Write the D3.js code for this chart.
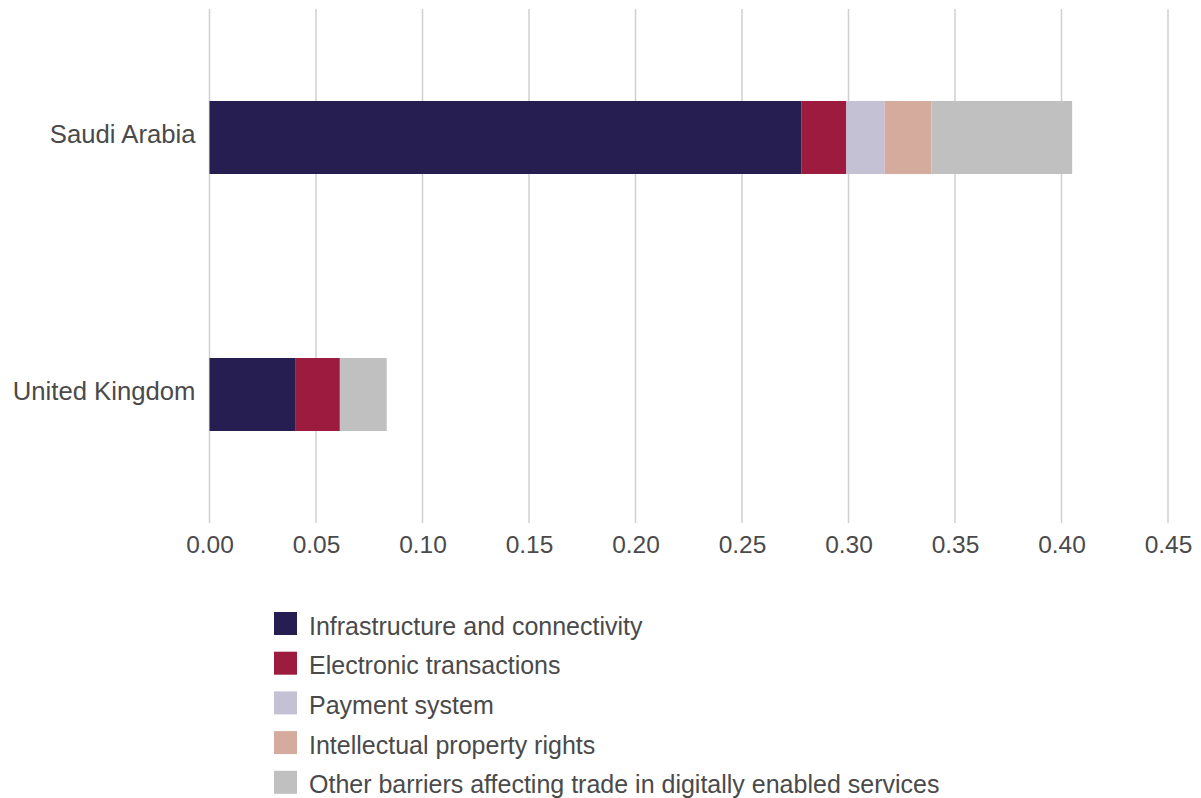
<!DOCTYPE html>
<html>
<head>
<meta charset="utf-8">
<script src="https://cdn.jsdelivr.net/npm/d3@7/dist/d3.min.js"></script>
<style>
  html, body { margin: 0; padding: 0; background: #fff; }
  svg text { font-family: "Liberation Sans", Arial, Helvetica, sans-serif; fill: #4a4a4a; }
</style>
</head>
<body>
<svg id="chart" width="1201" height="798"></svg>
<script>
// Barrier categories (stack order) and their colours
const seriesNames = [
  "Infrastructure and connectivity",
  "Electronic transactions",
  "Payment system",
  "Intellectual property rights",
  "Other barriers affecting trade in digitally enabled services"
];
const seriesColors = ["#261e50", "#9c1b3e", "#c5c1d5", "#d5ab9e", "#c0c0c0"];

const countries = ["Saudi Arabia", "United Kingdom"];

// Index contributions per country, one array per barrier category
const infrastructure = [0.278, 0.0405];
const electronic     = [0.021, 0.0207];
const payment        = [0.018, 0.0];
const ipRights       = [0.022, 0.0];
const other          = [0.066, 0.022];

const xTicks = [0, 0.05, 0.10, 0.15, 0.20, 0.25, 0.30, 0.35, 0.40, 0.45];

const rows = countries.map((c, i) => ({
  country: c,
  [seriesNames[0]]: infrastructure[i],
  [seriesNames[1]]: electronic[i],
  [seriesNames[2]]: payment[i],
  [seriesNames[3]]: ipRights[i],
  [seriesNames[4]]: other[i]
}));

const svg = d3.select("#chart");
const margin = { left: 209.5, right: 33, top: 9, bottom: 275 };
const W = 1201, H = 798;

const x = d3.scaleLinear().domain([0, 0.45]).range([margin.left, W - margin.right]);
const y = d3.scaleBand().domain(countries)
  .range([margin.top, H - margin.bottom])
  .paddingInner(0.716).paddingOuter(0.358);

// Vertical gridlines
svg.append("g").selectAll("line").data(xTicks).join("line")
  .attr("x1", d => x(d)).attr("x2", d => x(d))
  .attr("y1", margin.top).attr("y2", H - margin.bottom)
  .attr("stroke", "#d0d0d0").attr("stroke-width", 1.5);

// Stacked bars
const stack = d3.stack().keys(seriesNames);
const layers = stack(rows);
const color = d3.scaleOrdinal().domain(seriesNames).range(seriesColors);

svg.append("g").selectAll("g").data(layers).join("g")
  .attr("fill", d => color(d.key))
  .selectAll("rect").data(d => d).join("rect")
  .attr("x", d => x(d[0]))
  .attr("width", d => Math.max(0, x(d[1]) - x(d[0])))
  .attr("y", d => y(d.data.country))
  .attr("height", y.bandwidth());

// X axis tick labels
const xAxis = d3.axisBottom(x).tickValues(xTicks).tickFormat(d3.format(".2f")).tickSize(0).tickPadding(0);
const gx = svg.append("g").attr("transform", `translate(0, ${H - margin.bottom})`).call(xAxis);
gx.select(".domain").remove();
gx.selectAll("text")
  .attr("y", 30)
  .attr("dy", 0)
  .style("font-size", "24.5px")
  .attr("fill", "#4a4a4a");

// Category labels
const yAxis = d3.axisLeft(y).tickSize(0).tickPadding(14);
const gy = svg.append("g").attr("transform", `translate(${margin.left}, 0)`).call(yAxis);
gy.select(".domain").remove();
gy.selectAll("text")
  .attr("dy", "0.22em")
  .style("font-size", "25.7px")
  .attr("fill", "#4a4a4a");

// Legend
const legend = svg.append("g").attr("transform", "translate(274, 612)");
const item = legend.selectAll("g").data(seriesNames).join("g")
  .attr("transform", (d, i) => `translate(0, ${i * 39.7})`);
item.append("rect").attr("width", 23).attr("height", 23).attr("fill", d => color(d));
item.append("text").attr("x", 35).attr("y", 13.5).attr("dy", "0.36em")
  .style("font-size", "25px").text(d => d);
</script>
</body>
</html>
